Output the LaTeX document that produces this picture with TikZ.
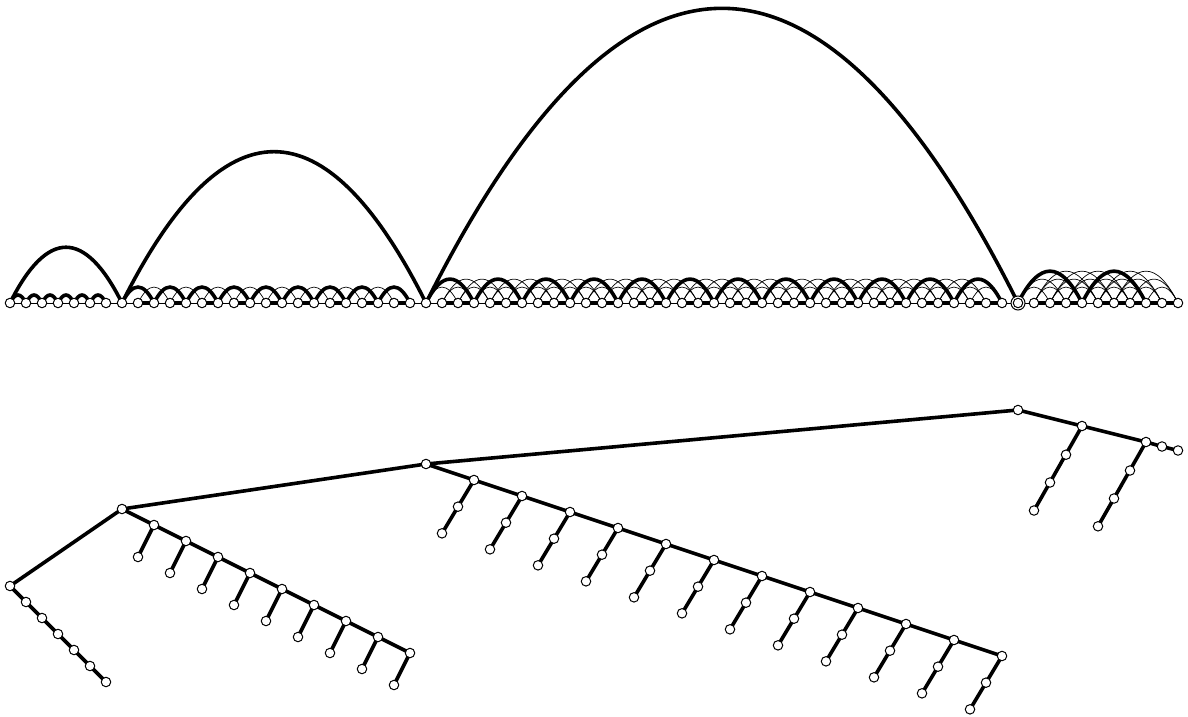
\documentclass[tikz,border=0pt]{standalone}
\usetikzlibrary{backgrounds}
\tikzset{
  vtx/.style={circle,draw=black,fill=white,line width=1pt,inner sep=0pt,minimum size=9.5pt},
  ring/.style={circle,draw=black,fill=white,line width=1pt,inner sep=0pt,minimum size=14pt},
  tree/.style={line width=3.6pt,line cap=round},
  nontree/.style={line width=0.7pt},
  hump/.style={out=63.43,in=116.57,looseness=1.903},
}
\begin{document}
\begin{tikzpicture}[x=1pt,y=1pt]
\useasboundingbox (0,0) rectangle (1188,716);
% ---------- top: linear layout ----------
\node[ring] (t63ring) at (1018,413) {};
\foreach \i in {0,...,73}{\node[vtx] (t\i) at ({10+16*\i},413) {};}
\begin{scope}[on background layer]
  \draw[nontree] (t0.center) -- (t73.center);
  % long tree arcs
  \draw[tree] (t0.center) to[hump] (t7.center);
  \draw[tree] (t7.center) to[hump] (t26.center);
  \draw[tree] (t26.center) to[hump] (t63.center);
  % region A
  \foreach \i in {0,...,5}{\pgfmathtruncatemacro\j{\i+1}\draw[tree] (t\i.center) to[hump] (t\j.center);}
  % region B
  \foreach \i in {8,10,...,22}{\pgfmathtruncatemacro\j{\i+2}\draw[nontree] (t\i.center) to[hump] (t\j.center);}
  \foreach \i in {7,9,...,23}{\pgfmathtruncatemacro\j{\i+2}\draw[tree] (t\i.center) to[hump] (t\j.center);}
  \foreach \i in {8,10,...,24}{\pgfmathtruncatemacro\j{\i+1}\draw[tree] (t\i.center) -- (t\j.center);}
  % region C
  \foreach \i in {26,...,60}{\pgfmathtruncatemacro\j{\i+2}\draw[nontree] (t\i.center) to[hump] (t\j.center);}
  \foreach \i in {27,28,30,31,33,34,36,37,39,40,42,43,45,46,48,49,51,52,54,55,57,58}{\pgfmathtruncatemacro\j{\i+3}\draw[nontree] (t\i.center) to[hump] (t\j.center);}
  \foreach \i in {26,29,...,59}{\pgfmathtruncatemacro\j{\i+3}\draw[tree] (t\i.center) to[hump] (t\j.center);}
  \foreach \i in {27,30,...,60}{\pgfmathtruncatemacro\j{\i+2}\draw[tree] (t\i.center) -- (t\j.center);}
  % region D
  \foreach \i in {63,...,71}{\pgfmathtruncatemacro\j{\i+2}\draw[nontree] (t\i.center) to[hump] (t\j.center);}
  \foreach \i in {63,...,70}{\pgfmathtruncatemacro\j{\i+3}\draw[nontree] (t\i.center) to[hump] (t\j.center);}
  \foreach \i in {64,65,66,68,69}{\pgfmathtruncatemacro\j{\i+4}\draw[nontree] (t\i.center) to[hump] (t\j.center);}
  \draw[tree] (t63.center) to[hump] (t67.center);
  \draw[tree] (t67.center) to[hump] (t71.center);
  \draw[tree] (t64.center) -- (t67.center);
  \draw[tree] (t68.center) -- (t73.center);
\end{scope}
% ---------- bottom: tree ----------
\node[vtx] (b0) at (10,130) {};
\foreach \i in {1,...,6}{\node[vtx] (b\i) at ({10+16*\i},{130-16*\i}) {};}
\node[vtx] (b7) at (122,207) {};
\foreach \k in {1,...,9}{
  \pgfmathtruncatemacro\c{7+2*\k}\pgfmathtruncatemacro\p{6+2*\k}
  \node[vtx] (b\c) at ({10+16*\c},{207-16*\k}) {};
  \node[vtx] (b\p) at ({10+16*\p},{207-16*\k-32}) {};
}
\node[vtx] (b26) at (426,252) {};
\foreach \k in {1,...,12}{
  \pgfmathtruncatemacro\c{26+3*\k}\pgfmathtruncatemacro\p{25+3*\k}\pgfmathtruncatemacro\q{24+3*\k}
  \node[vtx] (b\c) at ({10+16*\c},{252-16*\k}) {};
  \node[vtx] (b\p) at ({10+16*\p},{252-16*\k-26.67}) {};
  \node[vtx] (b\q) at ({10+16*\q},{252-16*\k-53.33}) {};
}
\node[vtx] (b63) at (1018,306) {};
\node[vtx] (b67) at (1082,290) {};
\node[vtx] (b66) at (1066,261.3) {};
\node[vtx] (b65) at (1050,233.5) {};
\node[vtx] (b64) at (1034,205.5) {};
\node[vtx] (b71) at (1146,274) {};
\node[vtx] (b70) at (1130,245.5) {};
\node[vtx] (b69) at (1114,217.5) {};
\node[vtx] (b68) at (1098,189.7) {};
\node[vtx] (b72) at (1162,269.5) {};
\node[vtx] (b73) at (1178,265.5) {};
\begin{scope}[on background layer]
  \draw[tree] (b63.center) -- (b26.center) -- (b7.center) -- (b0.center);
  \draw[tree] (b0.center) -- (b6.center);
  \draw[tree] (b7.center) -- (b9.center);
  \foreach \k in {1,...,8}{\pgfmathtruncatemacro\c{7+2*\k}\pgfmathtruncatemacro\n{9+2*\k}\draw[tree] (b\c.center) -- (b\n.center);}
  \foreach \k in {1,...,9}{\pgfmathtruncatemacro\c{7+2*\k}\pgfmathtruncatemacro\p{6+2*\k}\draw[tree] (b\c.center) -- (b\p.center);}
  \draw[tree] (b26.center) -- (b29.center);
  \foreach \k in {1,...,11}{\pgfmathtruncatemacro\c{26+3*\k}\pgfmathtruncatemacro\n{29+3*\k}\draw[tree] (b\c.center) -- (b\n.center);}
  \foreach \k in {1,...,12}{\pgfmathtruncatemacro\c{26+3*\k}\pgfmathtruncatemacro\q{24+3*\k}\draw[tree] (b\c.center) -- (b\q.center);}
  \draw[tree] (b63.center) -- (b67.center) -- (b71.center) -- (b72.center) -- (b73.center);
  \draw[tree] (b67.center) -- (b64.center);
  \draw[tree] (b71.center) -- (b68.center);
\end{scope}
\end{tikzpicture}
\end{document}
